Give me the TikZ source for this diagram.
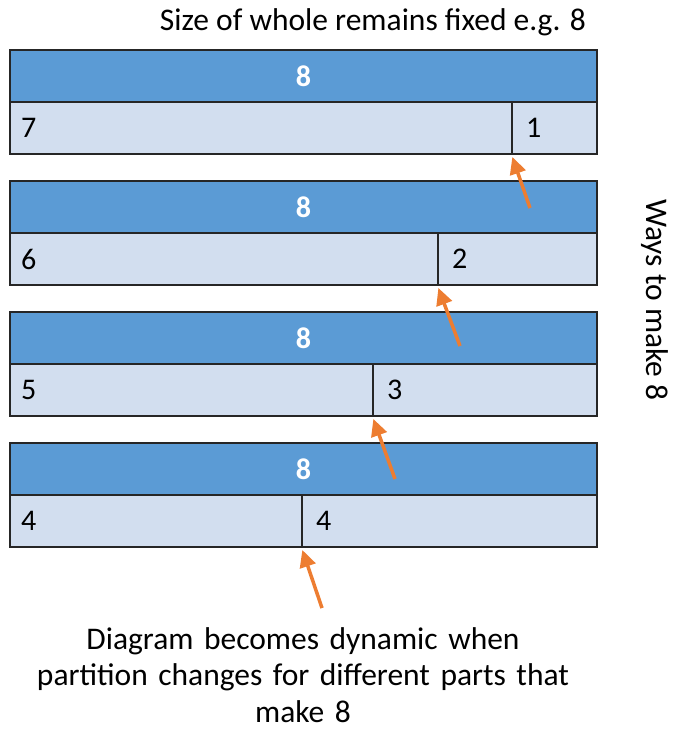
\documentclass[tikz,border=0pt]{standalone}
\usepackage{fontspec}
\setmainfont{Carlito}
\usetikzlibrary{arrows.meta}
\definecolor{hdr}{HTML}{5B9BD5}
\definecolor{part}{HTML}{D2DEEF}
\definecolor{arr}{HTML}{ED7D31}
\begin{document}
\begin{tikzpicture}[x=1pt,y=-1pt,
  hbox/.style={draw=black!85,line width=1.3pt,fill=hdr},
  pbox/.style={draw=black!85,line width=1.3pt,fill=part},
  whole/.style={text=white,font=\fontsize{30}{34}\selectfont\bfseries},
  num/.style={anchor=west,inner sep=0pt,font=\fontsize{30}{34}\selectfont},
  lbl/.style={font=\fontsize{31.5}{38}\selectfont},
  parr/.style={draw=arr,line width=3.5pt,-{Triangle[length=17pt,width=16pt]},shorten >=1pt}]
\useasboundingbox (0,0) rectangle (674,729);
\node[lbl] (title) at (373,22) {Size of whole remains fixed e.g. 8};
\foreach \i/\t/\d/\a/\b in {1/50/512/7/1, 2/181/438/6/2, 3/312/373/5/3, 4/443/302/4/4}{
  \draw[hbox] (10,\t) rectangle (597,\t+52);
  \node[whole] (w\i) at (303.5,\t+26) {8};
  \draw[pbox] (10,\t+52) rectangle (597,\t+104);
  \draw[line width=1.3pt,draw=black!85] (\d,\t+52) -- (\d,\t+104);
  \coordinate (d\i) at (\d,\t+106);
  \node[num] (a\i) at (21,\t+78) {\a};
  \node[num] (b\i) at (\d+14,\t+78) {\b};
}
\coordinate (s1) at (530,208);
\coordinate (s2) at (460,346);
\coordinate (s3) at (395,479);
\coordinate (s4) at (322,608);
\foreach \i in {1,...,4}{\draw[parr] (s\i) -- (d\i);}
\node[lbl,rotate=-90] (ways) at (655,300) {Ways to make 8};
\node[lbl,align=center,inner sep=0pt,text width=640pt] (note) at (303,675) {Diagram becomes dynamic when\\[-1.5pt]partition changes for different parts that\\[-1.5pt]make 8};
\end{tikzpicture}
\end{document}
